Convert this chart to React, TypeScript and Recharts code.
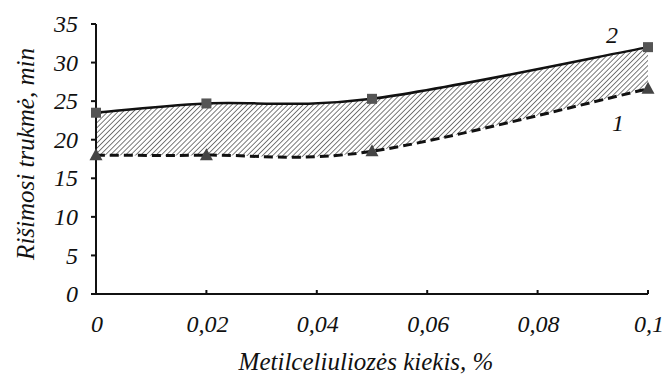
import * as React from 'react'
import { ComposedChart, Line, Area, XAxis, YAxis, LabelList } from 'recharts'

// methylcellulose dose, %
const doses = [0, 0.02, 0.05, 0.1]
// curve 2: end of setting, min
const setEnd = [23.5, 24.7, 25.3, 32.0]
// curve 1: start of setting, min
const setStart = [18.0, 18.0, 18.5, 26.6]

const xTicks = [0, 0.02, 0.04, 0.06, 0.08, 0.1]
const yTicks = [0, 5, 10, 15, 20, 25, 30, 35]

const FONT = '"Liberation Serif", "Times New Roman", serif'
const tickStyle = { fontFamily: FONT, fontStyle: 'italic' as const, fontSize: 24, fill: '#111' }
const titleStyle = { ...tickStyle, fontSize: 25 }

const data = doses.map((d, i) => ({
  dose: d,
  end: setEnd[i],
  start: setStart[i],
  band: [setStart[i], setEnd[i]],
}))

const fmt = (v: number) => String(v).replace('.', ',')

// Catmull-Rom style smoothing (like spreadsheet "smoothed line"), d3 curve protocol
function smoothCurve(ctx: any) {
  let pts: number[][] = []
  let lineFlag: number = NaN
  return {
    areaStart() { lineFlag = 0 },
    areaEnd() { lineFlag = NaN },
    lineStart() { pts = [] },
    point(x: number, y: number) { pts.push([+x, +y]) },
    lineEnd() {
      const n = pts.length
      if (n) {
        if (lineFlag) ctx.lineTo(pts[0][0], pts[0][1])
        else ctx.moveTo(pts[0][0], pts[0][1])
        for (let i = 0; i < n - 1; i++) {
          const p0 = pts[i - 1] || pts[i]
          const p1 = pts[i]
          const p2 = pts[i + 1]
          const p3 = pts[i + 2] || p2
          ctx.bezierCurveTo(
            p1[0] + (p2[0] - p0[0]) / 6, p1[1] + (p2[1] - p0[1]) / 6,
            p2[0] - (p3[0] - p1[0]) / 6, p2[1] - (p3[1] - p1[1]) / 6,
            p2[0], p2[1],
          )
        }
      }
      if (lineFlag) ctx.closePath()
      lineFlag = 1 - lineFlag
    },
  }
}

const XTick = (props: any) => (
  <text x={props.x + 1} y={props.y + 20} style={tickStyle} textAnchor="middle">
    {fmt(props.payload.value)}
  </text>
)

const YTick = (props: any) => (
  <text x={props.x} y={props.y} dy="0.34em" style={tickStyle} textAnchor="end">
    {props.payload.value}
  </text>
)

const Square = (props: any) => {
  const { cx, cy } = props
  if (cx == null || cy == null) return null
  return <rect x={cx - 5} y={cy - 5} width={10} height={10} fill="#555" />
}

const Triangle = (props: any) => {
  const { cx, cy } = props
  if (cx == null || cy == null) return null
  return <polygon points={`${cx},${cy - 7} ${cx + 6.5},${cy + 5} ${cx - 6.5},${cy + 5}`} fill="#444" />
}

const curveTag = (text: string, dx: number, dy: number) => (props: any) => {
  const { x, y, index } = props
  if (index !== doses.length - 1) return null
  return (
    <text x={x + dx} y={y + dy} style={tickStyle} textAnchor="middle">
      {text}
    </text>
  )
}

export default function App() {
  return (
    <div style={{ position: 'absolute', left: 0, top: 0, background: '#fff' }}>
      <ComposedChart width={667} height={374} data={data} margin={{ top: 24, right: 19, bottom: 0, left: 0 }}>
        <defs>
          <pattern id="hatch" patternUnits="userSpaceOnUse" width={3.6} height={3.6} patternTransform="rotate(45)">
            <line x1={0} y1={0} x2={0} y2={3.6} stroke="#333" strokeWidth={1.3} />
          </pattern>
        </defs>
        <XAxis
          dataKey="dose"
          type="number"
          domain={[0, 0.1]}
          ticks={xTicks}
          height={80}
          stroke="#111"
          strokeWidth={2}
          tickSize={-4}
          tickMargin={22}
          tick={<XTick />}
          label={{
            content: (p: any) => {
              const vb = p.viewBox
              return (
                <text x={vb.x + vb.width / 2 - 6} y={vb.y + vb.height - 4} style={titleStyle} textAnchor="middle">
                  Metilceliuliozės kiekis, %
                </text>
              )
            },
          }}
        />
        <YAxis
          type="number"
          domain={[0, 35]}
          ticks={yTicks}
          width={96}
          stroke="#111"
          strokeWidth={2}
          tickSize={5}
          tickMargin={13}
          tick={<YTick />}
          label={{
            content: (p: any) => {
              const vb = p.viewBox
              const cx = vb.x + 25
              const cy = vb.y + vb.height / 2 - 5
              return (
                <text x={cx} y={cy} transform={`rotate(-90, ${cx}, ${cy})`} style={titleStyle} textAnchor="middle" dominantBaseline="central">
                  Rišimosi trukmė, min
                </text>
              )
            },
          }}
        />
        <Area type={smoothCurve as any} dataKey="band" stroke="none" fill="url(#hatch)" fillOpacity={1} isAnimationActive={false} />
        <Line type={smoothCurve as any} dataKey="start" stroke="#111" strokeWidth={3} strokeDasharray="9 5" dot={<Triangle />} isAnimationActive={false}>
          <LabelList dataKey="start" content={curveTag('1', -30, 42)} />
        </Line>
        <Line type={smoothCurve as any} dataKey="end" stroke="#111" strokeWidth={2.5} dot={<Square />} isAnimationActive={false}>
          <LabelList dataKey="end" content={curveTag('2', -36, -4)} />
        </Line>
      </ComposedChart>
    </div>
  )
}
